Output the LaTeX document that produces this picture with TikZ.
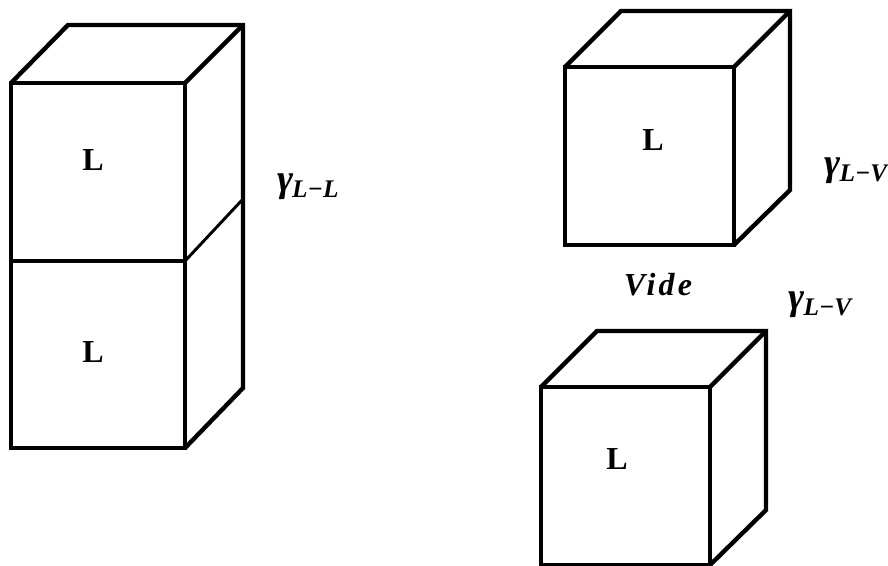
\documentclass[tikz,border=0pt]{standalone}
\usepackage{fontspec}
\usepackage{tikz}
\setmainfont{Liberation Serif}
\newfontfamily\spacedfont[LetterSpace=10]{Liberation Serif}
\newcommand{\surfgamma}[1]{\fontsize{29}{29}\selectfont\bfseries\itshape γ\kern-1pt\raisebox{-0.3ex}{\fontsize{19}{19}\selectfont #1}}
\tikzset{
  edgeline/.style = {
    line width=3.3pt,
    line join=miter
  },
  seamline/.style = {
    line width=2.2pt
  },
  facelabel/.style = {
    font=\fontsize{24}{24}\selectfont\bfseries,
    inner sep=0pt
  },
  energylabel/.style = {
    inner sep=0pt
  },
  voidlabel/.style = {
    font=\spacedfont\fontsize{24}{24}\selectfont\bfseries\itshape,
    inner sep=0pt
  }
}

\begin{document}
\begin{tikzpicture}[x=0.75pt,y=-0.75pt]
    \useasboundingbox (0,0) rectangle (888,565);
    % left column
    \coordinate (lfronttl) at (11,83);
    \coordinate (lfronttr) at (185,83);
    \coordinate (lfrontml) at (11,261);
    \coordinate (lfrontmr) at (185,261);
    \coordinate (lfrontbl) at (11,448);
    \coordinate (lfrontbr) at (185,448);
    \coordinate (lbacktl) at (68,25);
    \coordinate (lbacktr) at (243,25);
    \coordinate (lbackmr) at (243,199);
    \coordinate (lbackbr) at (243,388);
    \draw[edgeline] (lfronttl) rectangle (lfrontbr);
    \draw[edgeline] (lfronttl) -- (lbacktl) -- (lbacktr) -- (lbackbr) -- (lfrontbr);
    \draw[edgeline] (lfronttr) -- (lbacktr);
    \draw[edgeline] (lfrontml) -- (lfrontmr);
    \draw[seamline] (lfrontmr) -- (lbackmr);
    % upper right cube
    \coordinate (ufronttl) at (565,67);
    \coordinate (ufronttr) at (734,67);
    \coordinate (ufrontbr) at (734,245);
    \coordinate (ubacktl) at (621,11);
    \coordinate (ubacktr) at (790,11);
    \coordinate (ubackbr) at (790,190);
    \draw[edgeline] (ufronttl) rectangle (ufrontbr);
    \draw[edgeline] (ufronttl) -- (ubacktl) -- (ubacktr) -- (ubackbr) -- (ufrontbr);
    \draw[edgeline] (ufronttr) -- (ubacktr);
    % lower right cube
    \coordinate (dfronttl) at (541,387);
    \coordinate (dfronttr) at (710,387);
    \coordinate (dfrontbr) at (710,565);
    \coordinate (dbacktl) at (597,331);
    \coordinate (dbacktr) at (766,331);
    \coordinate (dbackbr) at (766,510);
    \draw[edgeline] (dfronttl) rectangle (dfrontbr);
    \draw[edgeline] (dfronttl) -- (dbacktl) -- (dbacktr) -- (dbackbr) -- (dfrontbr);
    \draw[edgeline] (dfronttr) -- (dbacktr);
    % labels
    \node[facelabel] (ltop) at (93,160) {L};
    \node[facelabel] (lbottom) at (93,352) {L};
    \node[facelabel] (utop) at (653,140) {L};
    \node[facelabel] (dtop) at (617,459) {L};
    \node[energylabel] (gammall) at (308,187) {\surfgamma{L−L}};
    \node[energylabel] (gammaup) at (856,171) {\surfgamma{L−V}};
    \node[energylabel] (gammadown) at (820,305) {\surfgamma{L−V}};
    \node[voidlabel] (vide) at (658,285) {Vide};
  \end{tikzpicture}
\end{document}
